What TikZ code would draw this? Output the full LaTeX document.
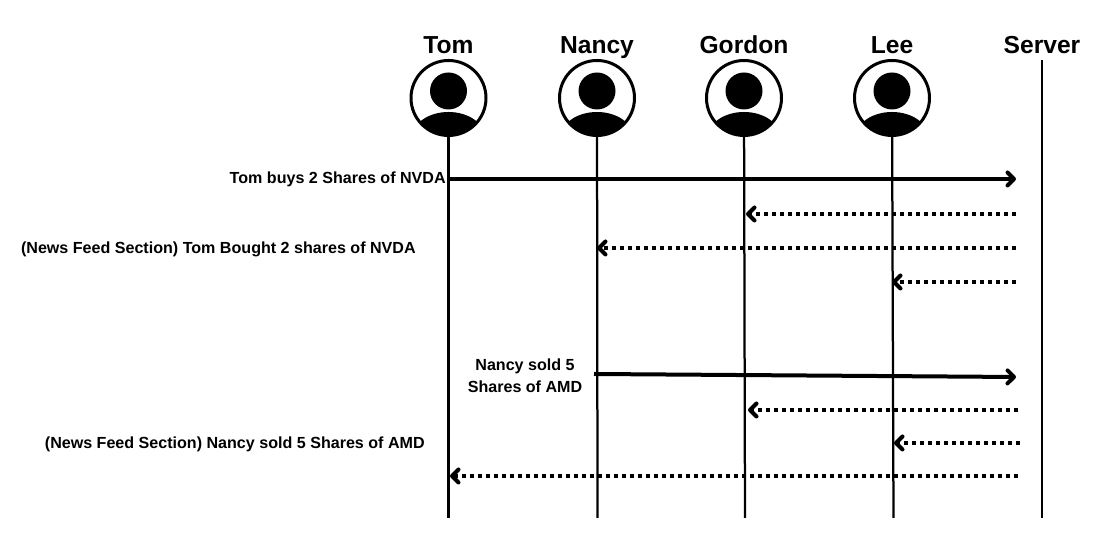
\documentclass[tikz,border=0pt]{standalone}
\usepackage{fontspec}
\setmainfont{Liberation Sans}
\usetikzlibrary{arrows.meta, positioning}

\tikzset{
    avatar/.style={circle,draw=black,line width=0.06cm,minimum size=1.5cm,inner sep=0pt,outer sep=0pt},
    person/.style={font=\fontsize{14}{16}\selectfont\bfseries,inner sep=0pt,text depth=0pt},
    note/.style={font=\fontsize{9.15}{12.5}\selectfont\bfseries,inner sep=0pt,align=center},
    lifeline/.style={line width=0.045cm},
    msg/.style={line width=0.08cm,-{Straight Barb[length=0.13cm,width=0.26cm,line width=0.08cm,round]}},
    feed/.style={msg,dash pattern=on 0.08cm off 0.08cm}
}

% head and shoulders, drawn over an avatar node
\newcommand{\headshoulders}[1]{
    \fill (#1) ++(0,0.14) circle (0.37cm);
    \begin{scope}
        \clip (#1) circle (0.75cm);
        \fill (#1) ++(0,-0.78) ellipse (0.72cm and 0.5cm);
    \end{scope}
}

\begin{document}
\begin{tikzpicture}
    \useasboundingbox (0,0) rectangle (22.36,10.98);
    \fill[white] (0,0) rectangle (22.36,10.98);
    % Add the people
    \node[avatar] (tom) at (8.97,9.02) {};
    \node[avatar,right=1.47cm of tom] (nancy) {};
    \node[avatar,right=1.44cm of nancy] (gordon) {};
    \node[avatar,right=1.46cm of gordon] (lee) {};
    \coordinate (server) at (20.84,9.78);
    \headshoulders{tom}
    \headshoulders{nancy}
    \headshoulders{gordon}
    \headshoulders{lee}
    \node[person,above=0.13cm of tom] (ltom) {Tom};
    \node[person,above=0.13cm of nancy] (lnancy) {Nancy};
    \node[person,above=0.13cm of gordon] (lgordon) {Gordon};
    \node[person,above=0.13cm of lee] (llee) {Lee};
    \node[person,above=0.13cm of server] (lserver) {Server};

    % Ends of the lifelines
    \coordinate (etom) at (8.97,0.62);
    \coordinate (enancy) at (11.95,0.62);
    \coordinate (egordon) at (14.9,0.62);
    \coordinate (elee) at (17.87,0.62);
    \coordinate (eserver) at (20.84,0.62);
    \draw[lifeline]
        (tom) edge[] (etom)
        (nancy) edge[] (enancy)
        (gordon) edge[] (egordon)
        (lee) edge[] (elee)
        (server) edge[] (eserver);

    % Ends of the messages
    \coordinate (a1) at (9,7.4);
    \coordinate (a2) at (20.32,7.4);
    \coordinate (b1) at (20.32,6.7);
    \coordinate (b2) at (14.92,6.7);
    \coordinate (c1) at (20.32,6.02);
    \coordinate (c2) at (11.94,6.02);
    \coordinate (d1) at (20.32,5.34);
    \coordinate (d2) at (17.84,5.34);
    \coordinate (e1) at (11.88,3.5);
    \coordinate (e2) at (20.32,3.44);
    \coordinate (f1) at (20.36,2.78);
    \coordinate (f2) at (14.96,2.78);
    \coordinate (g1) at (20.4,2.12);
    \coordinate (g2) at (17.88,2.12);
    \coordinate (h1) at (20.36,1.46);
    \coordinate (h2) at (9,1.46);
    \draw[msg] (a1) -- (a2);
    \draw[feed] (b1) -- (b2);
    \draw[feed] (c1) -- (c2);
    \draw[feed] (d1) -- (d2);
    \draw[msg] (e1) -- (e2);
    \draw[feed] (f1) -- (f2);
    \draw[feed] (g1) -- (g2);
    \draw[feed] (h1) -- (h2);

    % Texts beside the messages
    \node[note,left=0.08cm of a1,yshift=-0.01cm] (buys) {Tom buys 2 Shares of NVDA};
    \node[note,anchor=east] (feedtom) at (8.32,5.99) {(News Feed Section) Tom Bought 2 shares of NVDA};
    \node[note] (sold) at (10.5,3.47) {Nancy sold 5\\Shares of AMD};
    \node[note,anchor=east] (feednancy) at (8.5,2.1) {(News Feed Section) Nancy sold 5 Shares of AMD};
\end{tikzpicture}
\end{document}
